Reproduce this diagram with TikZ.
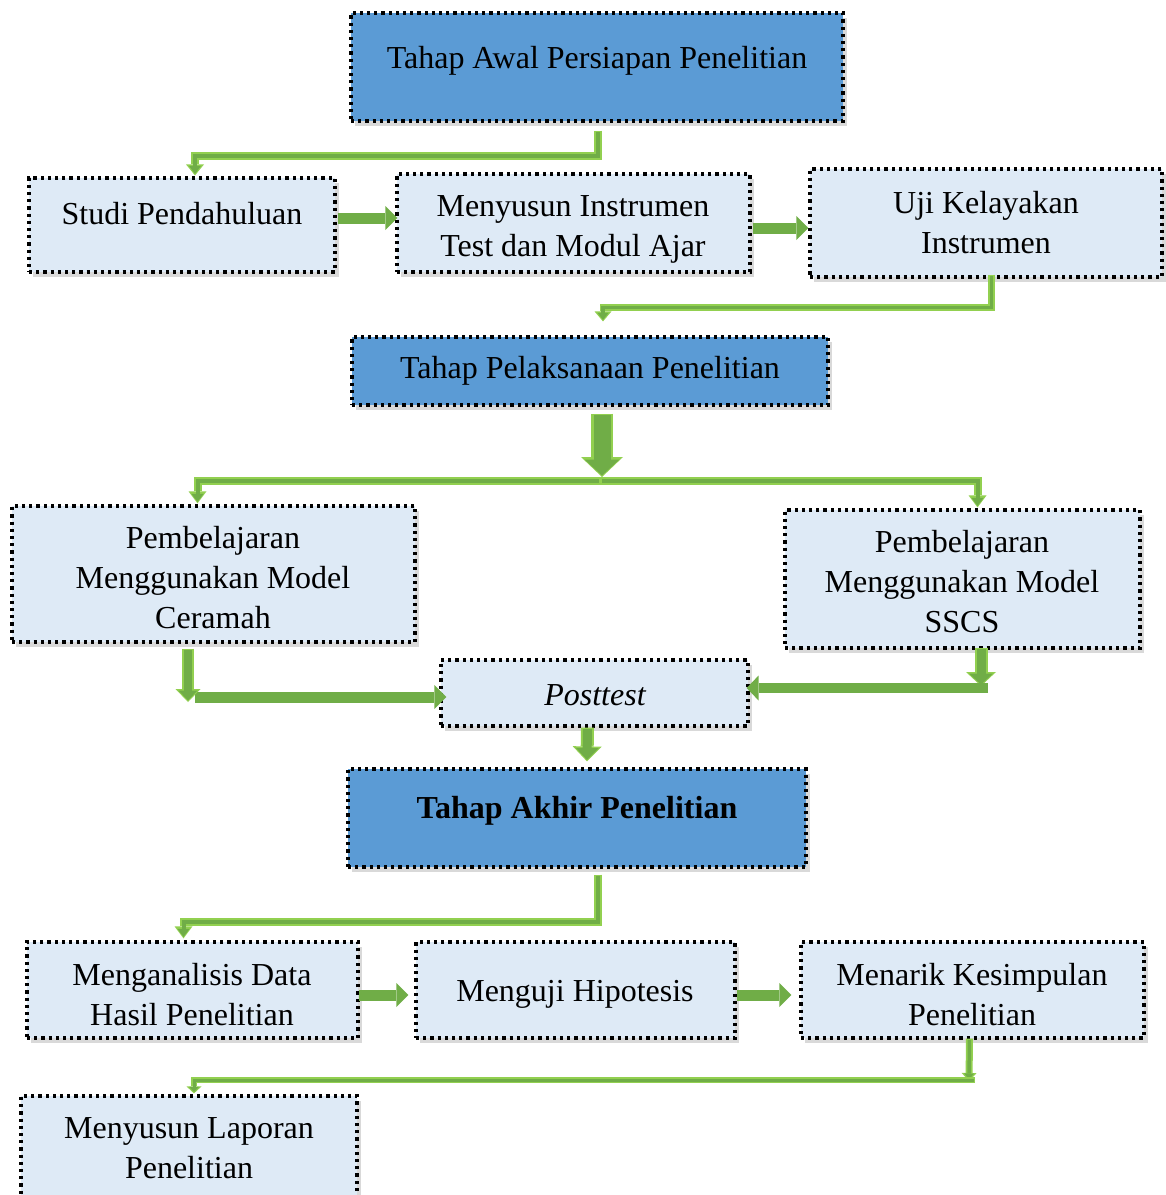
\documentclass[tikz,border=0pt]{standalone}
\usepackage{fontspec}
\setmainfont{Liberation Serif}
\usetikzlibrary{arrows.meta,shadows,calc}
\definecolor{bblue}{HTML}{5B9BD5}
\definecolor{lblue}{HTML}{DEEAF6}
\definecolor{gdark}{HTML}{70AD47}
\definecolor{glight}{HTML}{92D050}
% two-tone green connector: path, outer lw, inner lw, outer head w, outer head l, inner head w, inner head l
\newcommand\garr[7]{%
  \draw[glight,line width=#2,-{Triangle[width=#4,length=#5,line width=0pt]}] #1;
  \draw[gdark,line width=#3,shorten >=1.5pt,shorten <=1.5pt,-{Triangle[width=#6,length=#7,line width=0pt]}] #1;}
\tikzset{
  box/.style={draw=black, line width=3.2pt, dash pattern=on 3.2pt off 4pt, fill=lblue,
    drop shadow={shadow xshift=4pt,shadow yshift=-5pt,opacity=0.3}, inner sep=0pt},
  bluebox/.style={box, fill=bblue},
  txt/.style={font=\fontsize{32}{40}\selectfont, align=center, inner sep=0pt},
  blk/.style={gdark, line width=11pt, -{Triangle[width=24pt,length=12pt,line width=0pt]}},
}
\begin{document}
\begin{tikzpicture}[x=1pt,y=-1pt]
\useasboundingbox (0,0) rectangle (1166,1195);
% boxes
\node[bluebox, minimum width=492pt, minimum height=108pt] (b1) at (597,67) {};
\node[box, minimum width=306pt, minimum height=94pt] (b2) at (182,225) {};
\node[box, minimum width=353pt, minimum height=98pt] (b3) at (573.5,223) {};
\node[box, minimum width=352pt, minimum height=108pt] (b4) at (986,223) {};
\node[bluebox, minimum width=476pt, minimum height=68pt] (b5) at (590,371) {};
\node[box, minimum width=403pt, minimum height=136pt] (b6) at (213.5,574) {};
\node[box, minimum width=355pt, minimum height=138pt] (b7) at (962.5,579) {};
\node[box, minimum width=307pt, minimum height=66pt] (b8) at (594.5,693) {};
\node[bluebox, minimum width=458pt, minimum height=98pt] (b9) at (577,818) {};
\node[box, minimum width=331pt, minimum height=96pt] (b10) at (192.5,990) {};
\node[box, minimum width=319pt, minimum height=96pt] (b11) at (575.5,990) {};
\node[box, minimum width=343pt, minimum height=96pt] (b12) at (972.5,990) {};
\node[box, minimum width=336pt, minimum height=119pt] (b13) at (189,1155.5) {};
% texts
\node[txt] (t1) at (597,61) {Tahap Awal Persiapan Penelitian};
\node[txt] (t2) at (182,214) {Studi Pendahuluan};
\node[txt] (t3) at (573,229) {Menyusun Instrumen\\Test dan Modul Ajar};
\node[txt] (t4) at (986,223) {Uji Kelayakan\\Instrumen};
\node[txt] (t5) at (590,371) {Tahap Pelaksanaan Penelitian};
\node[txt] (t6) at (213,578) {Pembelajaran\\Menggunakan Model\\Ceramah};
\node[txt] (t7) at (962,582) {Pembelajaran\\Menggunakan Model\\SSCS};
\node[txt] (t8) at (595,695) {\itshape Posttest};
\node[txt] (t9) at (577,811) {\bfseries Tahap Akhir Penelitian};
\node[txt] (t10) at (192,995) {Menganalisis Data\\Hasil Penelitian};
\node[txt] (t11) at (575,994) {Menguji Hipotesis};
\node[txt] (t12) at (972,995) {Menarik Kesimpulan\\Penelitian};
\node[txt] (t13) at (189,1148) {Menyusun Laporan\\Penelitian};
% coordinates
\coordinate (J) at (600,481);
\coordinate (c6) at (188,702);
\coordinate (c6h) at (195,697);
\coordinate (c7) at (981,686);
\coordinate (c7h) at (988,688);
\coordinate (c12) at (969,1081);
\coordinate (c12h) at (975,1080);
% connectors
\garr{($(b1.south)+(1,8)$) -- ++(0,25) -| ($(b2.north)+(13,-1)$)}{8pt}{4pt}{18pt}{11pt}{12pt}{8pt}
\draw[blk] ($(b2.east)+(1,-7)$) -- ($(b3.west)+(2,-5)$);
\draw[blk] ($(b3.east)+(1,5)$) -- ($(b4.west)+(0,5)$);
\garr{($(b4.south)+(5.5,-4)$) -- ++(0,33) -| ($(b5.north)+(13,-14)$)}{7pt}{3.5pt}{17pt}{10pt}{11pt}{7pt}
\garr{($(b5.south)+(12,7)$) -- ($(J)+(2,-4)$)}{22pt}{17pt}{42pt}{20pt}{35pt}{16pt}
\garr{(J) -| ($(b6.north)+(-16,-1)$)}{8pt}{4pt}{18pt}{12pt}{12pt}{8pt}
\garr{(J) -| ($(b7.north)+(15,-1)$)}{8pt}{4pt}{18pt}{12pt}{12pt}{8pt}
\draw[blk] (c6h) -- ($(b8.west)+(7,4)$);
\garr{($(b6.south)+(-25.5,5)$) -- (c6)}{12pt}{8pt}{25pt}{13pt}{19pt}{10pt}
\garr{($(b7.south)+(18.5,-2)$) -- (c7)}{13pt}{9pt}{30pt}{14pt}{24pt}{11pt}
\draw[blk, line width=10pt, -{Triangle[width=25pt,length=12pt,line width=0pt]}] (c7h) -- ($(b8.east)+(-3,-5)$);
\garr{($(b8.south)+(-7,0)$) -- ($(b9.north)+(10,-6)$)}{13pt}{9pt}{29pt}{15pt}{23pt}{12pt}
\garr{($(b9.south)+(21,6)$) -- ++(0,47) -| ($(b10.north)+(-9,-2)$)}{8pt}{4pt}{18pt}{12pt}{12pt}{8pt}
\draw[blk] ($(b10.east)+(-1,5)$) -- ($(b11.west)+(-6,5)$);
\draw[blk] ($(b11.east)+(0,5)$) -- ($(b12.west)+(-8,5)$);
\garr{($(b12.south)+(-3,-1)$) -- (c12)}{7pt}{3.5pt}{15pt}{8pt}{10pt}{6pt}
\garr{(c12h) -| ($(b13.north)+(5,-1)$)}{6pt}{3pt}{15pt}{7pt}{10pt}{5pt}
\end{tikzpicture}
\end{document}
